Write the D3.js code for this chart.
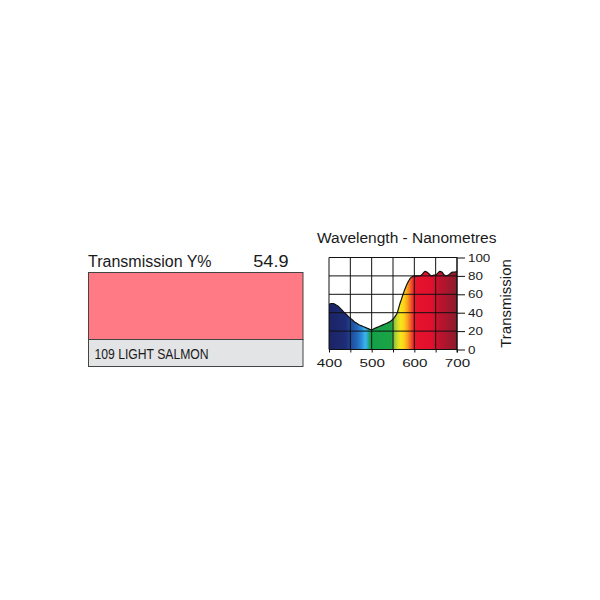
<!DOCTYPE html>
<html>
<head>
<meta charset="utf-8">
<script src="https://cdn.jsdelivr.net/npm/d3@7"></script>
<style>
  body { margin: 0; background: #fff; }
  svg { display: block; font-family: "Liberation Sans", Arial, Helvetica, sans-serif; }
</style>
</head>
<body>
<svg id="chart"></svg>
<script>
// Data
const transmissionY = 54.9;
const filterName = "109 LIGHT SALMON";

const wavelengths = [400, 405, 410, 415, 420, 425, 430, 435, 440, 445,
  450, 455, 460, 465, 470, 475, 480, 485, 490, 495,
  500, 505, 510, 515, 520, 525, 530, 535, 540, 545,
  550, 555, 560, 565, 570, 575, 580, 585, 590, 595,
  600, 605, 610, 615, 620, 625, 630, 635, 640, 645,
  650, 655, 660, 665, 670, 675, 680, 685, 690, 695, 700];
const transmission = [49, 50, 50, 49, 47.5, 45.5, 43, 40.5, 38.5, 36,
  34, 32, 30, 28.5, 27, 26, 25, 24, 23, 22,
  21.5, 22.5, 23.5, 24.5, 25.5, 26.5, 27.5, 28.5, 29.5, 31,
  33, 36, 40, 48, 55, 62, 68, 73, 77, 79,
  80, 80, 80, 80.5, 82.5, 85, 84, 82, 80, 81,
  81, 83, 85, 84, 81, 80, 81, 83, 84, 84, 85];

const xTicks = [400, 450, 500, 550, 600, 650, 700];
const xLabels = [400, 500, 600, 700];
const yTicks = [0, 20, 40, 60, 80, 100];

// Spectrum colours (wavelength -> colour)
const spectrum = [
  [400, "#1b2363"], [440, "#1e2d78"], [452, "#1f4b9d"], [466, "#2468b9"],
  [476, "#2b8ad5"], [485, "#3ab5ee"], [490, "#2fa9c6"], [496, "#13a04a"],
  [546, "#1ba445"], [553, "#8dc63f"], [561, "#d4dd2a"], [568, "#f6e51b"],
  [576, "#ffd01a"], [584, "#f7a01d"], [592, "#ef5a2a"], [600, "#e8132c"],
  [640, "#e1102e"], [656, "#c3122e"], [700, "#8a1c2c"]
];

// Constant Values
const width = 600;
const height = 600;
const plot = { left: 329, right: 457, top: 257.5, bottom: 349.5 };

const svg = d3.select("#chart")
  .attr("width", width)
  .attr("height", height);

// ---- Left panel: swatch ----
svg.append("text")
  .attr("x", 88)
  .attr("y", 266.7)
  .attr("font-size", 16)
  .attr("fill", "#1a1a1a")
  .text("Transmission Y%");

svg.append("text")
  .attr("transform", "translate(288.5,266.7) scale(1.13,1)")
  .attr("text-anchor", "end")
  .attr("font-size", 16)
  .attr("fill", "#1a1a1a")
  .text(transmissionY.toFixed(1));

svg.append("rect")
  .attr("x", 88.5).attr("y", 272.5)
  .attr("width", 214.5).attr("height", 67)
  .attr("fill", "#ff7a84")
  .attr("stroke", "#444").attr("stroke-width", 1);

svg.append("rect")
  .attr("x", 88.5).attr("y", 339.5)
  .attr("width", 214.5).attr("height", 27)
  .attr("fill", "#e3e4e5")
  .attr("stroke", "#444").attr("stroke-width", 1);

// condensed label
svg.append("text")
  .attr("transform", "translate(94.5,359.3) scale(0.87,1)")
  .attr("font-size", 14)
  .attr("fill", "#1a1a1a")
  .text(filterName);

// ---- Right panel: spectral transmission ----
const xScale = d3.scaleLinear()
  .domain([400, 700])
  .range([plot.left, plot.right]);

const yScale = d3.scaleLinear()
  .domain([0, 100])
  .range([plot.bottom, plot.top]);

const data = wavelengths.map((w, i) => [w, transmission[i]]);

// gradient along wavelength
const grad = svg.append("defs").append("linearGradient")
  .attr("id", "spectrum")
  .attr("gradientUnits", "userSpaceOnUse")
  .attr("x1", xScale(400)).attr("x2", xScale(700))
  .attr("y1", 0).attr("y2", 0);

grad.selectAll("stop")
  .data(spectrum)
  .enter()
  .append("stop")
  .attr("offset", d => (d[0] - 400) / 300)
  .attr("stop-color", d => d[1]);

const area = d3.area()
  .x(d => xScale(d[0]))
  .y0(yScale(0))
  .y1(d => yScale(d[1]))
  .curve(d3.curveMonotoneX);

const line = d3.line()
  .x(d => xScale(d[0]))
  .y(d => yScale(d[1]))
  .curve(d3.curveMonotoneX);

svg.append("path")
  .datum(data)
  .attr("d", area)
  .attr("fill", "url(#spectrum)");

// grid
svg.append("g")
  .selectAll("line")
  .data(xTicks)
  .enter()
  .append("line")
  .attr("x1", d => xScale(d)).attr("x2", d => xScale(d))
  .attr("y1", yScale(100)).attr("y2", yScale(0))
  .attr("stroke", "#111").attr("stroke-width", 1);

svg.append("g")
  .selectAll("line")
  .data(yTicks)
  .enter()
  .append("line")
  .attr("x1", xScale(400)).attr("x2", xScale(700))
  .attr("y1", d => yScale(d)).attr("y2", d => yScale(d))
  .attr("stroke", "#111").attr("stroke-width", 1);

svg.append("path")
  .datum(data)
  .attr("d", line)
  .attr("fill", "none")
  .attr("stroke", "#111")
  .attr("stroke-width", 1.2);

// x axis
const xAxis = d3.axisBottom(xScale)
  .tickValues(xTicks)
  .tickSize(3)
  .tickPadding(6)
  .tickFormat(d => xLabels.includes(d) ? d : "");

const gx = svg.append("g")
  .attr("transform", `translate(0,${plot.bottom})`)
  .call(xAxis);
gx.select(".domain").remove();
gx.selectAll("line").attr("stroke", "#111");
gx.selectAll("text")
  .attr("font-size", 11.5)
  .attr("font-family", "'Liberation Sans', Arial, sans-serif")
  .attr("fill", "#1a1a1a")
  .attr("transform", "scale(1.32,1)");

// y axis on the right
const yAxis = d3.axisRight(yScale)
  .tickValues(yTicks)
  .tickSize(8)
  .tickPadding(3);

const gy = svg.append("g")
  .attr("transform", `translate(${plot.right},0)`)
  .call(yAxis);
gy.select(".domain")
  .attr("d", `M0,${plot.top}V${plot.bottom + 3}`)
  .attr("stroke", "#111");
gy.selectAll("line").attr("stroke", "#111");
gy.selectAll("text")
  .attr("font-size", 11)
  .attr("font-family", "'Liberation Sans', Arial, sans-serif")
  .attr("fill", "#1a1a1a")
  .attr("x", 9)
  .attr("transform", "scale(1.22,1)");

// titles
svg.append("text")
  .attr("x", 317)
  .attr("y", 243.3)
  .attr("font-size", 15.5)
  .attr("fill", "#1a1a1a")
  .text("Wavelength - Nanometres");

svg.append("text")
  .attr("transform", `translate(510.5,${(plot.top + plot.bottom) / 2}) rotate(-90)`)
  .attr("text-anchor", "middle")
  .attr("font-size", 15)
  .attr("fill", "#1a1a1a")
  .text("Transmission");
</script>
</body>
</html>
